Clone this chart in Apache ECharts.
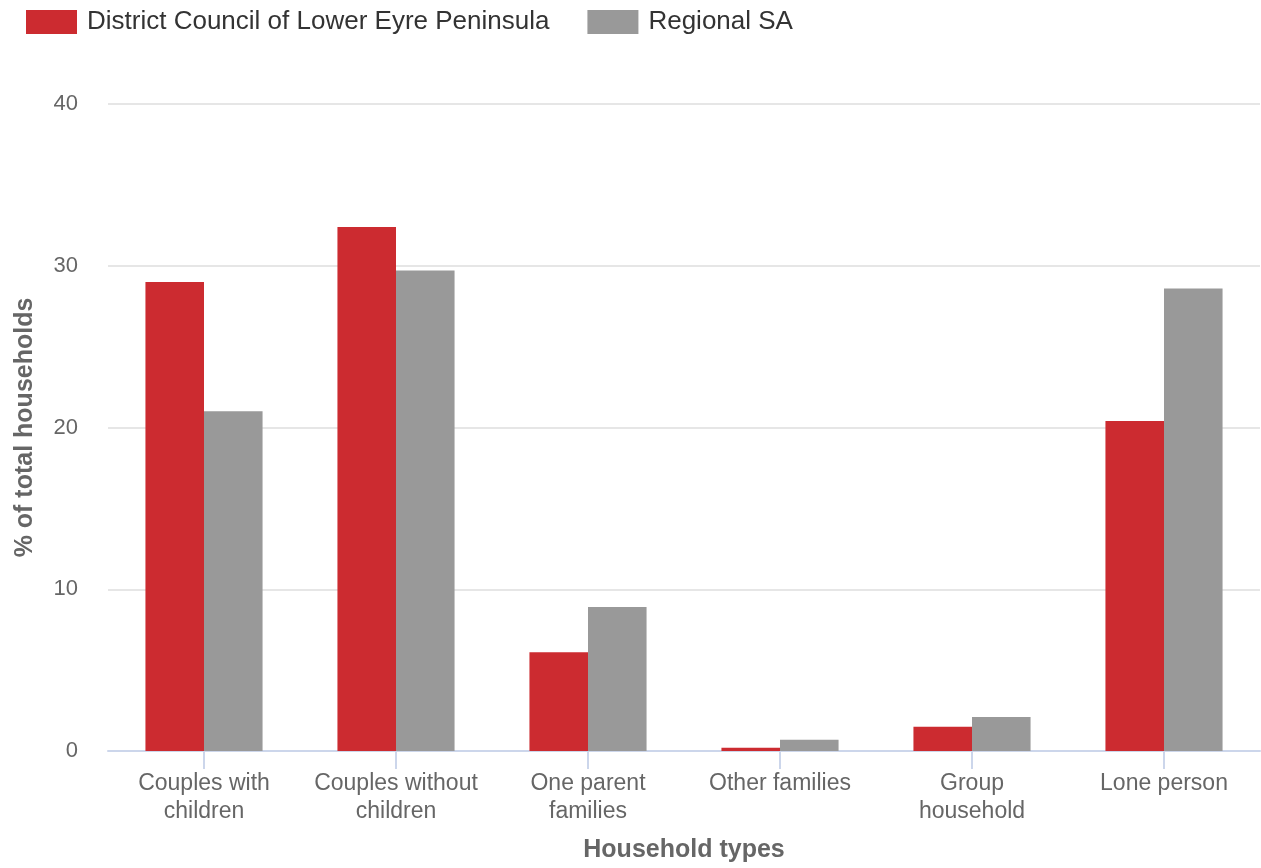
<!DOCTYPE html>
<html>
<head>
<meta charset="utf-8">
<script src="https://cdn.jsdelivr.net/npm/echarts@6/dist/echarts.min.js"></script>
<style>html,body{margin:0;padding:0;background:#fff;}#c{width:1261px;height:868px;}</style>
</head>
<body>
<div id="c"></div>
<script>
const categories = ['Couples with\nchildren', 'Couples without\nchildren', 'One parent\nfamilies', 'Other families', 'Group\nhousehold', 'Lone person'];
const seriesNames = ['District Council of Lower Eyre Peninsula', 'Regional SA'];
const lowerEyre = [29.0, 32.4, 6.1, 0.2, 1.5, 20.4];
const regionalSA = [21.0, 29.7, 8.9, 0.7, 2.1, 28.6];
const yTicks = { min: 0, max: 40, interval: 10 };

const chart = echarts.init(document.getElementById('c'));
const font = 'Liberation Sans, Arial, sans-serif';
chart.setOption({
  animation: false,
  textStyle: { fontFamily: font },
  legend: {
    left: 26, top: 9,
    padding: 0,
    icon: 'rect',
    itemWidth: 51, itemHeight: 24, itemGap: 38,
    textStyle: { fontSize: 26, color: '#333', fontFamily: font, padding: [0, 0, 0, 5] },
    data: seriesNames
  },
  grid: { left: 108, right: 1, top: 104, bottom: 116 },
  xAxis: {
    type: 'category',
    data: categories,
    name: 'Household types',
    nameLocation: 'middle',
    nameGap: 87,
    nameTextStyle: { fontSize: 25, fontWeight: 'bold', color: '#666', fontFamily: font },
    axisLine: { lineStyle: { color: '#ccd6eb', width: 2 } },
    axisTick: { show: true, length: 18, alignWithLabel: true, lineStyle: { color: '#ccd6eb', width: 2 } },
    axisLabel: { fontSize: 23, color: '#666', margin: 19, lineHeight: 28, interval: 0, fontFamily: font }
  },
  yAxis: {
    type: 'value',
    min: yTicks.min, max: yTicks.max, interval: yTicks.interval,
    name: '% of total households',
    nameLocation: 'middle',
    nameGap: 70,
    nameRotate: 90,
    nameTextStyle: { fontSize: 25, fontWeight: 'bold', color: '#666', fontFamily: font },
    axisLine: { show: false },
    axisTick: { show: false },
    axisLabel: { fontSize: 22, color: '#666', margin: 30, fontFamily: font },
    splitLine: { lineStyle: { color: '#e6e6e6', width: 2 } }
  },
  series: [
    { name: seriesNames[0], type: 'bar', data: lowerEyre, itemStyle: { color: '#cc2b30' }, barGap: '0%', barCategoryGap: '39%' },
    { name: seriesNames[1], type: 'bar', data: regionalSA, itemStyle: { color: '#999999' }, barGap: '0%', barCategoryGap: '39%' }
  ]
});
</script>
</body>
</html>
